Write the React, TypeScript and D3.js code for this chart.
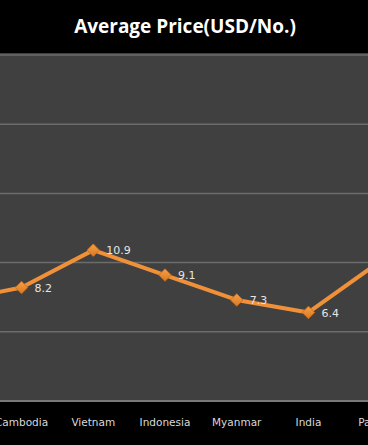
import * as d3 from "d3";
import React from "react";

// categories and average price per unit (USD/No.)
const countries = ["Thailand", "Cambodia", "Vietnam", "Indonesia", "Myanmar", "India", "Pakistan"];
const prices = [7.2, 8.2, 10.9, 9.1, 7.3, 6.4, 10.1];
const yTickValues = [0, 5, 10, 15, 20, 25];
const title = "Average Price(USD/No.)";

export default function App({
  width = 368,
  height = 445,
  plotTop = 53,
  plotBottom = 402,
}: {
  width?: number;
  height?: number;
  plotTop?: number;
  plotBottom?: number;
}) {
  // chart is cropped on both sides, so the point scale runs past the view
  const xScale = d3.scalePoint<string>(countries, [-50.2, 380.2]);
  const yScale = d3.scaleLinear([0, 25], [plotBottom - 1, 55]);

  const data = countries.map((c, i) => ({ c, v: prices[i] }));
  const line = d3
    .line<{ c: string; v: number }>()
    .x((d) => xScale(d.c) ?? 0)
    .y((d) => yScale(d.v));

  const marker = d3.symbol(d3.symbolSquare, 78)() ?? "";

  return (
    <svg
      width={width}
      height={height}
      style={{ position: "fixed", left: 0, top: 0, display: "block" }}
    >
      <defs>
        <clipPath id="clip">
          <rect x={0} y={0} width={width} height={height} />
        </clipPath>
        <linearGradient id="mk" x1="0" y1="0" x2="1" y2="1">
          <stop offset="0" stopColor="#f5a04a" />
          <stop offset="1" stopColor="#d9781f" />
        </linearGradient>
      </defs>
      <rect width={width} height={height} fill="#000" />
      <text
        x={width / 2 + 1}
        y={33}
        textAnchor="middle"
        fill="#fff"
        fontFamily="'Open Sans', sans-serif"
        fontWeight="bold"
        fontSize={19}
      >
        {title}
      </text>

      {/* plot area */}
      <rect x={0} y={plotTop} width={width} height={plotBottom - plotTop} fill="#404040" />
      {yTickValues.map((t) => (
        <line
          key={t}
          x1={0}
          x2={width}
          y1={yScale(t)}
          y2={yScale(t)}
          stroke={t === 0 ? "#8c8c8c" : "#6b6b6b"}
          strokeWidth={1.5}
        />
      ))}

      <g clipPath="url(#clip)">
        <path d={line(data) ?? ""} fill="none" stroke="#f0913a" strokeWidth={4} strokeLinejoin="round" />
        {data.map((d) => {
          const x = xScale(d.c) ?? 0;
          return (
            <g key={d.c} transform={`translate(${x},${yScale(d.v)})`}>
              <path d={marker} transform="rotate(45)" fill="url(#mk)" stroke="#c96d1c" strokeWidth={0.8} />
              {/* labels of points outside the cropped view are not drawn */}
              {x > 0 && x < width && (
                <text
                  x={13}
                  dy="0.38em"
                  fill="#e6e6e6"
                  fontFamily="'DejaVu Sans', sans-serif"
                  fontSize={11}
                >
                  {d.v}
                </text>
              )}
            </g>
          );
        })}
      </g>

      {/* x-axis labels */}
      <g fontFamily="'DejaVu Sans', sans-serif" fontSize={10.5} fill="#d9d9d9" textAnchor="middle">
        {countries
          .filter((c) => (xScale(c) ?? 0) > 0)
          .map((c) => (
            <text key={c} x={xScale(c)} y={426}>
              {c}
            </text>
          ))}
      </g>
    </svg>
  );
}
